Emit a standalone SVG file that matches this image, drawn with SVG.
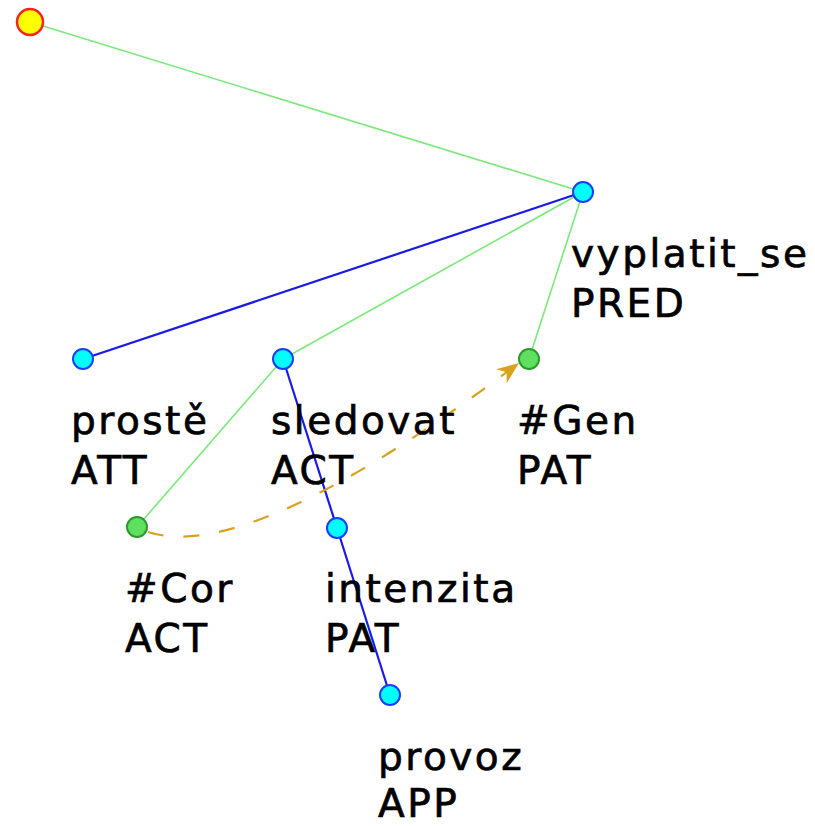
<svg xmlns="http://www.w3.org/2000/svg" width="815" height="826" viewBox="0 0 815 826">
  <style>
    .lbl { font-family: "DejaVu Sans", "Liberation Sans", sans-serif; font-size: 39px; fill: #000; stroke: #000; stroke-width: 0.7; letter-spacing: 2.5px; }
    .e-green { stroke: #7be87b; stroke-width: 1.6; fill: none; }
    .e-blue { stroke: #1a1ae6; stroke-width: 2.2; fill: none; }
    .coref { stroke: #d9a21e; stroke-width: 2.2; fill: none; stroke-dasharray: 16 20; }
    .n-blue { fill: #00ffff; stroke: #1a3cff; stroke-width: 2; }
    .n-green { fill: #5fe05f; stroke: #2a9a2a; stroke-width: 2; }
    .n-root { fill: #ffff00; stroke: #ff2020; stroke-width: 2.5; }
  </style>
  <defs>
    <marker id="arrowhead" viewBox="0 0 20 16" refX="20" refY="8" markerWidth="22" markerHeight="18" markerUnits="userSpaceOnUse" orient="auto">
      <path d="M0,0 L20,8 L0,16 L6,8 Z" fill="#d9a21e"/>
    </marker>
  </defs>

  <!-- tree edges -->
  <g id="edges">
    <line class="e-green" x1="30" y1="22" x2="583" y2="192"/>
    <line class="e-blue" x1="583" y1="192" x2="83" y2="359"/>
    <line class="e-green" x1="583" y1="192" x2="283" y2="359"/>
    <line class="e-green" x1="583" y1="192" x2="529" y2="359"/>
    <line class="e-green" x1="283" y1="359" x2="137" y2="527"/>
    <line class="e-blue" x1="283" y1="359" x2="337" y2="528"/>
    <line class="e-blue" x1="337" y1="528" x2="390" y2="695"/>
    <!-- coreference arrow -->
    <path class="coref" d="M148,532 Q250,565 519,363" marker-end="url(#arrowhead)"/>
  </g>

  <g id="root">
    <circle class="n-root" cx="30" cy="22" r="13"/>
  </g>
  <g id="vyplatit_se">
    <circle class="n-blue" cx="583" cy="192" r="10"/>
    <text class="lbl" x="571" y="267">vyplatit_se</text>
    <text class="lbl" x="571" y="317">PRED</text>
  </g>
  <g id="proste">
    <circle class="n-blue" cx="83" cy="359" r="10"/>
    <text class="lbl" x="71" y="434">prostě</text>
    <text class="lbl" x="71" y="484">ATT</text>
  </g>
  <g id="sledovat">
    <circle class="n-blue" cx="283" cy="359" r="10"/>
    <text class="lbl" x="271" y="434">sledovat</text>
    <text class="lbl" x="271" y="484">ACT</text>
  </g>
  <g id="gen">
    <circle class="n-green" cx="529" cy="359" r="10"/>
    <text class="lbl" x="517" y="434">#Gen</text>
    <text class="lbl" x="517" y="484">PAT</text>
  </g>
  <g id="cor">
    <circle class="n-green" cx="137" cy="527" r="10"/>
    <text class="lbl" x="125" y="602">#Cor</text>
    <text class="lbl" x="125" y="652">ACT</text>
  </g>
  <g id="intenzita">
    <circle class="n-blue" cx="337" cy="528" r="10"/>
    <text class="lbl" x="325" y="602">intenzita</text>
    <text class="lbl" x="325" y="652">PAT</text>
  </g>
  <g id="provoz">
    <circle class="n-blue" cx="390" cy="695" r="10"/>
    <text class="lbl" x="378" y="770">provoz</text>
    <text class="lbl" x="378" y="817">APP</text>
  </g>
</svg>
